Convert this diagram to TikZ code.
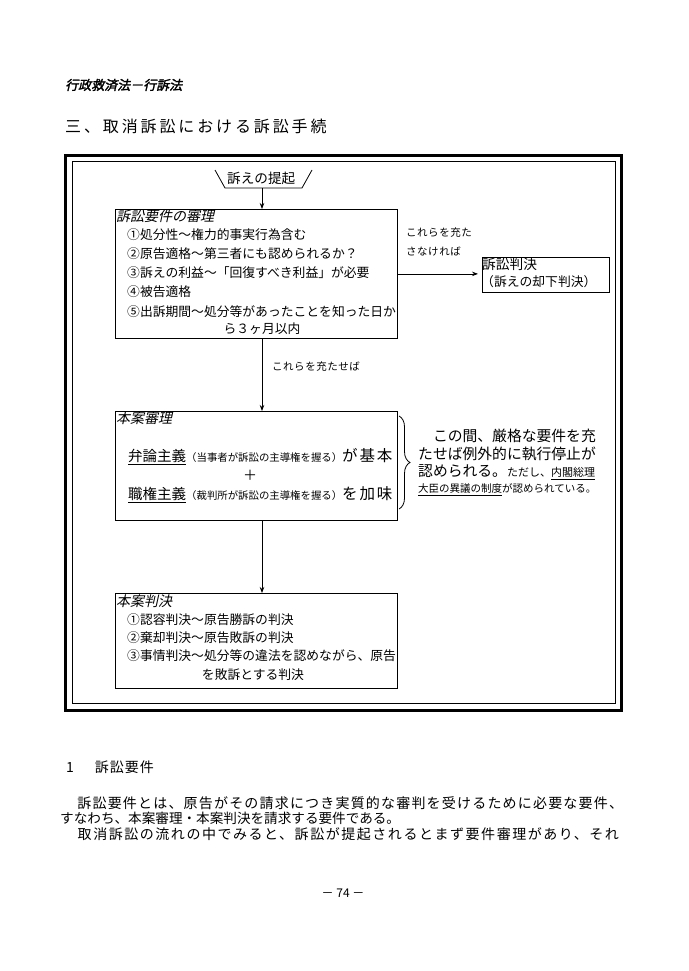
\documentclass[tikz,border=0pt]{standalone}
\usepackage{fontspec}
\usetikzlibrary{arrows.meta,decorations.pathreplacing}
\newfontfamily\jp{Noto Sans CJK JP}
\newfontfamily\jpit[FakeSlant=0.22]{Noto Sans CJK JP}
\newfontfamily\jpbi[FakeSlant=0.22,FakeBold=2]{Noto Sans CJK JP}
\newfontfamily\jpwide[LetterSpace=18]{Noto Sans CJK JP}
\newcommand\myfs[1]{\fontsize{#1}{#1}\selectfont}
\begin{document}
\begin{tikzpicture}[x=1pt,y=-1pt,
  txt/.style={inner sep=0pt, anchor=west, font=\jp\myfs{12.8}},
  ctxt/.style={inner sep=0pt, anchor=center, font=\jp\myfs{12.8}},
  ttlit/.style={inner sep=0pt, anchor=west, font=\jpit\myfs{14}},
  small/.style={inner sep=0pt, anchor=west, font=\jp\myfs{10.5}\addfontfeature{LetterSpace=5}},
  box/.style={draw, line width=0.8pt, inner sep=0pt, anchor=north west},
  arr/.style={draw, line width=0.8pt, -{Stealth[length=6pt,width=4.5pt]}},
]
\fill[white] (0,0) rectangle (688,971);
\useasboundingbox (0,0) rectangle (688,971);

% header
\node[inner sep=0pt, anchor=west, font=\jpbi\myfs{13}] (hdr) at (65,85) {行政救済法－行訴法};
\node[inner sep=0pt, anchor=west, font=\jpwide\myfs{16}] (ttl) at (65,126) {三、取消訴訟における訴訟手続};

% frame
\draw[line width=3pt] (65.5,155.5) rectangle (621,710);
\draw[line width=0.8pt] (72,161.5) rectangle (615,703.5);

% start trapezoid
\draw[line width=0.8pt] (215,170) -- (225,188) -- (302,188) -- (312,170);
\node[inner sep=0pt, anchor=west, font=\jp\myfs{13.6}] (trap) at (227,178) {訴えの提起};
\coordinate (tb) at (262,188);

% box 1
\node[box, minimum width=282pt, minimum height=129pt] (b1) at (115,209) {};
\node[ttlit] (b1t) at (116,216) {訴訟要件の審理};
\node[txt] (b1a) at (127,235) {①処分性～権力的事実行為含む};
\node[txt] (b1b) at (127,254) {②原告適格～第三者にも認められるか？};
\node[txt] (b1c) at (127,273) {③訴えの利益～「回復すべき利益」が必要};
\node[txt] (b1d) at (127,292) {④被告適格};
\node[txt] (b1e) at (127,312) {⑤出訴期間～処分等があったことを知った日か};
\node[ctxt] (b1f) at (262,329) {ら３ヶ月以内};

% side: dismissal
\node[small] (n1) at (406,233) {これらを充た};
\node[small] (n2) at (406,251) {さなければ};
\node[box, minimum width=127pt, minimum height=35pt] (b4) at (482,257) {};
\node[inner sep=0pt, anchor=west, font=\jp\myfs{13.7}] (b4t) at (482,264) {訴訟判決};
\node[txt] (b4a) at (481,282) {（訴えの却下判決）};

\node[small] (n3) at (272,367) {これらを充たせば};

% box 2
\node[box, minimum width=282pt, minimum height=109pt] (b2) at (115,411) {};
\node[ttlit] (b2t) at (116,418) {本案審理};
\node[inner sep=0pt, anchor=west, font=\jp\myfs{14.5}] (b2a) at (128,457) {\underline{弁論主義}{\myfs{10.4}（当事者が訴訟の主導権を握る）}{\myfs{15.5}\addfontfeature{LetterSpace=12}が基本}};
\node[inner sep=0pt, anchor=center, font=\jp\myfs{14}] (b2p) at (250,475) {＋};
\node[inner sep=0pt, anchor=west, font=\jp\myfs{14.5}] (b2b) at (128,495) {\underline{職権主義}{\myfs{10.4}（裁判所が訴訟の主導権を握る）}{\myfs{15.5}\addfontfeature{LetterSpace=12}を加味}};

% brace and note
\draw[line width=0.8pt, decorate, decoration={brace, amplitude=11pt}] (399,416) -- (399,509);
\node[inner sep=0pt, anchor=west, font=\jp\myfs{14.8}] (r1) at (418,436) {　この間、厳格な要件を充};
\node[inner sep=0pt, anchor=west, font=\jp\myfs{14.8}] (r2) at (418,454) {たせば例外的に執行停止が};
\node[inner sep=0pt, anchor=west, font=\jp\myfs{14.8}] (r3) at (418,472) {認められる。{\myfs{11}ただし、\underline{内閣総理}}};
\node[inner sep=0pt, anchor=west, font=\jp\myfs{10.5}] (r4) at (418,490) {\underline{大臣の異議の制度}が認められている。};

% box 3
\node[box, minimum width=282pt, minimum height=95pt] (b3) at (115,593) {};
\node[ttlit] (b3t) at (116,601) {本案判決};
\node[txt] (b3a) at (127,620) {①認容判決～原告勝訴の判決};
\node[txt] (b3b) at (127,638) {②棄却判決～原告敗訴の判決};
\node[txt] (b3c) at (127,656) {③事情判決～処分等の違法を認めながら、原告};
\node[ctxt] (b3d) at (253,675) {を敗訴とする判決};

% connectors
\draw[arr] (tb) -- (tb |- b1.north);
\draw[arr, shorten >=4pt] (b1.east) -- (b1.east -| b4.west);
\draw[arr] (b1.south -| tb) -- (b2.north -| tb);
\draw[arr] (b2.south -| tb) -- (b3.north -| tb);

% body text
\node[inner sep=0pt, anchor=west, font=\jp\myfs{14}] (s1) at (66,767) {1\hspace{21pt}\addfontfeature{LetterSpace=7}訴訟要件};
\node[inner sep=0pt, anchor=west, font=\jp\myfs{14}\addfontfeature{LetterSpace=8.5}] (p1) at (62,803) {　訴訟要件とは、原告がその請求につき実質的な審判を受けるために必要な要件、};
\node[inner sep=0pt, anchor=west, font=\jp\myfs{13.6}] (p2) at (60,818) {すなわち、本案審理・本案判決を請求する要件である。};
\node[inner sep=0pt, anchor=west, font=\jp\myfs{14}\addfontfeature{LetterSpace=11}] (p3) at (62,834) {　取消訴訟の流れの中でみると、訴訟が提起されるとまず要件審理があり、それ};
\node[inner sep=0pt, anchor=center, font=\jp\myfs{12}] (pg) at (343,893) {－ 74 －};
\end{tikzpicture}
\end{document}
